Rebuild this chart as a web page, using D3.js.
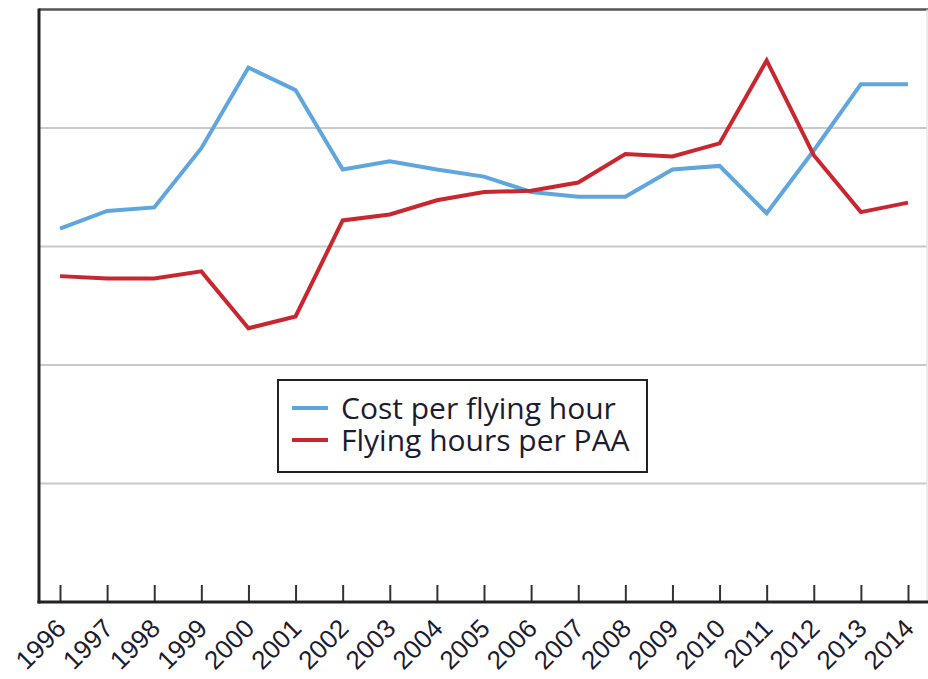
<!DOCTYPE html>
<html><head><meta charset="utf-8">
<script src="https://cdn.jsdelivr.net/npm/d3@7"></script>
<style>html,body{margin:0;padding:0;background:#fff;}svg{display:block;font-family:"Open Sans",sans-serif;}</style>
</head><body>
<svg id="chart" width="928" height="679"></svg>
<script>
const years = [1996,1997,1998,1999,2000,2001,2002,2003,2004,2005,2006,2007,2008,2009,2010,2011,2012,2013,2014];
const costPerFlyingHour = [3.15,3.30,3.33,3.83,4.51,4.32,3.65,3.72,3.65,3.59,3.46,3.42,3.42,3.65,3.68,3.28,3.81,4.37,4.37];
const flyingHoursPerPAA = [2.75,2.73,2.73,2.79,2.31,2.41,3.22,3.27,3.39,3.46,3.47,3.54,3.78,3.76,3.87,4.57,3.77,3.29,3.37];
const gridTicks = [1,2,3,4];
const seriesNames = ["Cost per flying hour","Flying hours per PAA"];
const seriesColors = ["#5fa6de","#c9262f"];

const svg = d3.select("#chart");
const L = 39, R = 927, T = 9.5, B = 602;
const x = d3.scalePoint(years, [60, 908]);
const y = d3.scaleLinear([0,5],[B,T]);

// gridlines
svg.append("g").selectAll("line").data(gridTicks).join("line")
  .attr("x1", L).attr("x2", R).attr("y1", d=>y(d)).attr("y2", d=>y(d))
  .attr("stroke","#c9c9c9").attr("stroke-width",2);

// top border & faint right border
svg.append("line").attr("x1",L).attr("x2",R+1).attr("y1",T).attr("y2",T).attr("stroke","#555").attr("stroke-width",2.5);
svg.append("line").attr("x1",R).attr("x2",R).attr("y1",T).attr("y2",B).attr("stroke","#e6e6e6").attr("stroke-width",1.5);

// lines
const line = d3.line().x((d,i)=>x(years[i])).y(d=>y(d));
[costPerFlyingHour, flyingHoursPerPAA].forEach((s,k)=>{
  svg.append("path").datum(s).attr("d",line).attr("fill","none")
    .attr("stroke",seriesColors[k]).attr("stroke-width",4).attr("stroke-linejoin","miter");
});

// x axis
const xAxis = d3.axisBottom(x).tickSize(-17).tickSizeOuter(0).tickPadding(0);
const gx = svg.append("g").attr("transform",`translate(0,${B})`).call(xAxis);
gx.select(".domain").remove();
gx.selectAll(".tick line").attr("stroke","#333").attr("stroke-width",2);
gx.selectAll(".tick text")
  .attr("font-size",26).attr("fill","#1c1c30")
  .attr("text-anchor","end")
  .attr("transform","translate(7,28) rotate(-45)")
  .attr("dy",0).attr("y",0).attr("x",0);
svg.append("line").attr("x1",L-1.5).attr("x2",R+1).attr("y1",B).attr("y2",B).attr("stroke","#222").attr("stroke-width",3);
svg.append("line").attr("x1",L).attr("x2",L).attr("y1",T-1).attr("y2",B+1.5).attr("stroke","#222").attr("stroke-width",3);

// legend
const lg = svg.append("g");
lg.append("rect").attr("x",278).attr("y",380).attr("width",369).attr("height",92)
  .attr("fill","#fff").attr("stroke","#222").attr("stroke-width",2);
seriesNames.forEach((n,i)=>{
  const yy = 408 + i*32;
  lg.append("line").attr("x1",292).attr("x2",328).attr("y1",yy).attr("y2",yy)
    .attr("stroke",seriesColors[i]).attr("stroke-width",4);
  lg.append("text").attr("x",341).attr("y",yy).attr("dy","0.36em")
    .attr("font-size",30).attr("fill","#1c1c30").text(n);
});
</script>
</body></html>
